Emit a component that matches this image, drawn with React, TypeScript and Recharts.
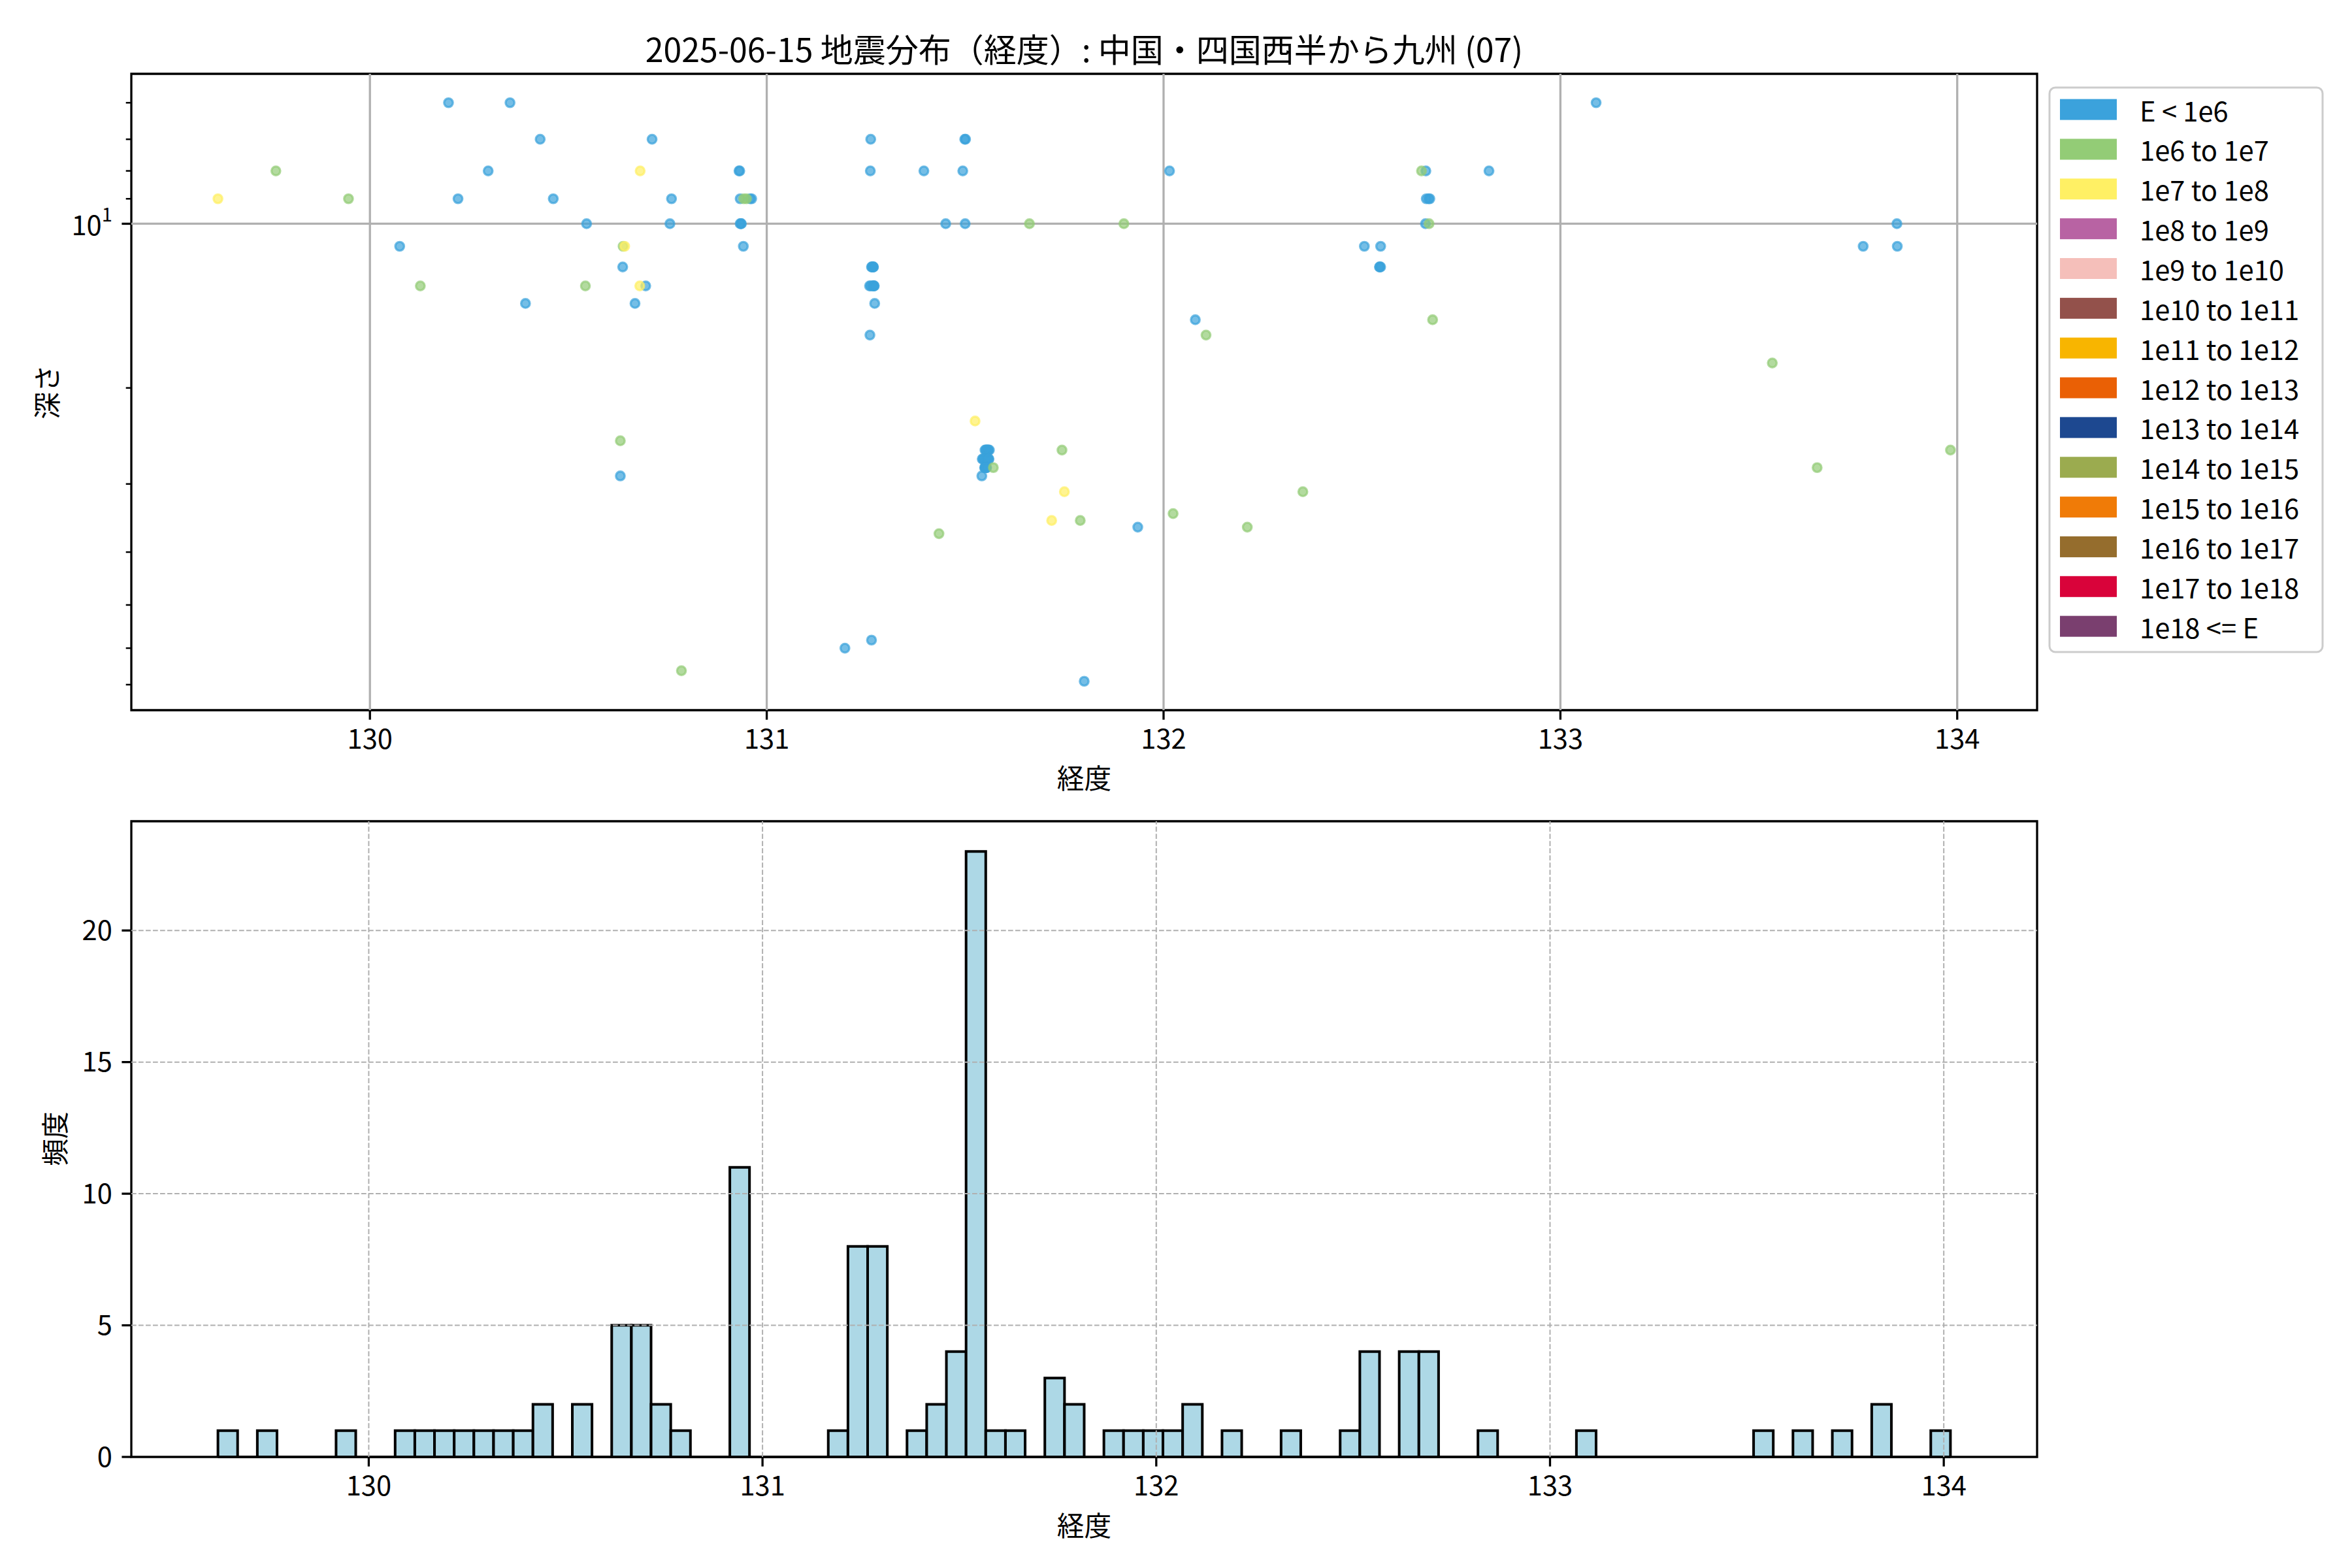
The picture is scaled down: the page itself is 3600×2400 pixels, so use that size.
import {
  Bar,
  ComposedChart,
  ReferenceArea,
  ReferenceLine,
  Scatter,
  ScatterChart,
  XAxis,
  YAxis,
} from "recharts";

const FONT = '"Noto Sans CJK JP", "Noto Sans", sans-serif';

const chartTitle = "2025-06-15 地震分布（経度）: 中国・四国西半から九州 (07)";

const lonTicks = [130, 131, 132, 133, 134];
const depthTicks = [6, 7, 8, 9, 10, 20, 30, 40, 50, 60, 70];
const countTicks = [0, 5, 10, 15, 20];

const energyClasses = [
  { label: "E < 1e6", color: "#3ba2dc" },
  { label: "1e6 to 1e7", color: "#93cc76" },
  { label: "1e7 to 1e8", color: "#fff064" },
  { label: "1e8 to 1e9", color: "#b863a3" },
  { label: "1e9 to 1e10", color: "#f5bfba" },
  { label: "1e10 to 1e11", color: "#93514b" },
  { label: "1e11 to 1e12", color: "#f8b500" },
  { label: "1e12 to 1e13", color: "#ea6005" },
  { label: "1e13 to 1e14", color: "#1d4890" },
  { label: "1e14 to 1e15", color: "#9bab4f" },
  { label: "1e15 to 1e16", color: "#f07b07" },
  { label: "1e16 to 1e17", color: "#956d2d" },
  { label: "1e17 to 1e18", color: "#d9033a" },
  { label: "1e18 <= E", color: "#7a3f6f" },
];

// [longitude, depth km] by energy class
const quakesBelow1e6: [number, number][] = [
  [130.075, 11], [130.198, 6], [130.222, 9], [130.298, 8], [130.353, 6],
  [130.392, 14], [130.429, 7], [130.462, 9], [130.546, 10], [130.631, 29],
  [130.637, 12], [130.668, 14], [130.695, 13], [130.711, 7], [130.756, 10],
  [130.760, 9],
  [130.930, 8], [130.932, 8], [130.933, 9], [130.958, 9], [130.962, 9],
  [130.933, 10], [130.935, 10], [130.936, 10], [130.941, 11],
  [131.197, 60],
  [131.262, 7], [131.261, 8], [131.260, 16], [131.264, 58], [131.264, 12],
  [131.265, 12], [131.259, 13], [131.262, 13],
  [131.272, 14], [131.268, 12], [131.268, 12], [131.269, 12], [131.268, 13],
  [131.269, 13], [131.270, 13], [131.271, 13],
  [131.396, 8], [131.451, 10],
  [131.494, 8], [131.499, 7], [131.501, 7], [131.500, 10],
  [131.550, 26], [131.552, 26], [131.555, 26], [131.557, 26], [131.559, 26],
  [131.561, 26], [131.554, 26],
  [131.543, 27], [131.545, 27], [131.548, 27], [131.551, 27], [131.553, 27],
  [131.556, 27], [131.559, 27], [131.560, 27],
  [131.549, 28], [131.550, 28], [131.551, 28], [131.552, 28], [131.553, 28],
  [131.554, 28], [131.542, 29],
  [131.800, 69], [131.935, 36], [132.015, 8], [132.080, 15],
  [132.506, 11], [132.547, 11], [132.544, 12], [132.545, 12], [132.547, 12],
  [132.661, 8], [132.662, 9], [132.660, 10], [132.668, 9], [132.671, 9],
  [132.820, 8], [133.090, 6], [133.763, 11], [133.848, 10], [133.849, 11],
];

const quakes1e6to1e7: [number, number][] = [
  [129.763, 8], [129.946, 9], [130.127, 13], [130.543, 13], [130.631, 25],
  [130.638, 11], [130.785, 66], [130.942, 9], [130.949, 9], [131.434, 37],
  [131.571, 28], [131.662, 10], [131.744, 26], [131.790, 35], [131.900, 10],
  [132.024, 34], [132.107, 16], [132.211, 36], [132.351, 31], [132.650, 8],
  [132.669, 10], [132.678, 15], [133.534, 18], [133.647, 28], [133.983, 26],
];

const quakes1e7to1e8: [number, number][] = [
  [129.617, 9], [130.642, 11], [130.681, 8], [130.680, 13], [131.525, 23],
  [131.750, 31], [131.718, 35],
];

// histogram: 0.05 degree bins starting at binStart
const binStart = 129.617;
const binWidth = 0.05;
const binCounts = [
  1, 0, 1, 0, 0, 0, 1, 0, 0, 1,
  1, 1, 1, 1, 1, 1, 2, 0, 2, 0,
  5, 5, 2, 1, 0, 0, 11, 0, 0, 0,
  0, 1, 8, 8, 0, 1, 2, 4, 23, 1,
  1, 0, 3, 2, 0, 1, 1, 1, 1, 2,
  0, 1, 0, 0, 1, 0, 0, 1, 4, 0,
  4, 4, 0, 0, 1, 0, 0, 0, 0, 1,
  0, 0, 0, 0, 0, 0, 0, 0, 1, 0,
  1, 0, 1, 0, 2, 0, 0, 1,
];

// layout (px)
const W = 3600;
const PLOT_LEFT = 201;
const PLOT_RIGHT = 3118;
const PLOT_W = PLOT_RIGHT - PLOT_LEFT;
const Y_AXIS_W = 100;
const X_AXIS_H = 80;
const TICK_FONT = 41.7;
const LW = 3.3;

const scatterSeries = [
  { data: quakesBelow1e6, color: energyClasses[0].color },
  { data: quakes1e6to1e7, color: energyClasses[1].color },
  { data: quakes1e7to1e8, color: energyClasses[2].color },
];

const allQuakes = [...quakesBelow1e6, ...quakes1e6to1e7, ...quakes1e7to1e8];
const lons = allQuakes.map((q) => q[0]);
const depths = allQuakes.map((q) => q[1]);
const lonMin = Math.min(...lons);
const lonMax = Math.max(...lons);
const lonPad = (lonMax - lonMin) * 0.05;
const scatterLonDomain = [lonMin - lonPad, lonMax + lonPad];
const logMin = Math.log10(Math.min(...depths));
const logMax = Math.log10(Math.max(...depths));
const logPad = (logMax - logMin) * 0.05;
const depthDomain = [10 ** (logMin - logPad), 10 ** (logMax + logPad)];

const binEnd = binStart + binCounts.length * binWidth;
const histPad = (binEnd - binStart) * 0.05;
const histLonDomain = [binStart - histPad, binEnd + histPad];
const countDomain = [0, Math.max(...binCounts) * 1.05];
const histData = binCounts.map((count, i) => ({
  center: binStart + (i + 0.5) * binWidth,
  count,
}));
// a hair under the bin spacing so recharts keeps bars flush (no 90% shrink)
const barPx = ((PLOT_W * binWidth) / (histLonDomain[1] - histLonDomain[0])) * 0.999;

const tickStyle = { fontSize: TICK_FONT, fill: "#000", fontFamily: FONT };

function DepthTick(props: any) {
  const { y, payload } = props;
  const major = payload.value === 10;
  const len = major ? 14.6 : 8.3;
  return (
    <g>
      <line
        x1={PLOT_LEFT}
        x2={PLOT_LEFT - len}
        y1={y}
        y2={y}
        stroke="#000"
        strokeWidth={major ? LW : 2.5}
      />
      {major && (
        <text
          x={PLOT_LEFT - 29.2}
          y={y}
          textAnchor="end"
          dominantBaseline="central"
          fontFamily={FONT}
          fontSize={TICK_FONT}
          fill="#000"
        >
          10
          <tspan dy={-16} fontSize={29}>
            1
          </tspan>
        </text>
      )}
    </g>
  );
}

function QuakeDot(color: string) {
  return (props: any) => (
    <circle
      cx={props.cx}
      cy={props.cy}
      r={6.7}
      fill={color}
      fillOpacity={0.7}
      stroke={color}
      strokeOpacity={0.7}
      strokeWidth={LW}
    />
  );
}

function DepthScatter() {
  return (
    <ScatterChart
      width={W}
      height={1200}
      margin={{ top: 113, right: W - PLOT_RIGHT, bottom: 1200 - 1087 - X_AXIS_H, left: PLOT_LEFT - Y_AXIS_W }}
    >
      <XAxis
        type="number"
        dataKey="lon"
        domain={scatterLonDomain}
        ticks={lonTicks}
        allowDataOverflow
        height={X_AXIS_H}
        axisLine={false}
        tickSize={14.6}
        tickMargin={14.6}
        tickLine={{ stroke: "#000", strokeWidth: LW }}
        tick={tickStyle}
      />
      <YAxis
        type="number"
        dataKey="depth"
        scale="log"
        domain={depthDomain}
        ticks={depthTicks}
        reversed
        allowDataOverflow
        width={Y_AXIS_W}
        axisLine={false}
        tickLine={false}
        tickSize={0}
        tickMargin={0}
        tick={<DepthTick />}
      />
      {scatterSeries.map((s, i) => (
        <Scatter
          key={i}
          data={s.data.map(([lon, depth]) => ({ lon, depth }))}
          shape={QuakeDot(s.color)}
          isAnimationActive={false}
        />
      ))}
      {lonTicks.map((t) => (
        <ReferenceLine key={t} x={t} stroke="#b0b0b0" strokeWidth={LW} />
      ))}
      <ReferenceLine y={10} stroke="#b0b0b0" strokeWidth={LW} />
      <ReferenceArea
        x1={scatterLonDomain[0]}
        x2={scatterLonDomain[1]}
        y1={depthDomain[0]}
        y2={depthDomain[1]}
        fill="none"
        fillOpacity={0}
        stroke="#000"
        strokeOpacity={1}
        strokeWidth={LW}
      />
    </ScatterChart>
  );
}

function LonHistogram() {
  const grid = { stroke: "#b0b0b0", strokeWidth: 2, strokeDasharray: "7.7 3.3" };
  return (
    <ComposedChart
      width={W}
      height={1200}
      data={histData}
      margin={{ top: 57, right: W - PLOT_RIGHT, bottom: 1200 - 1030 - X_AXIS_H, left: PLOT_LEFT - Y_AXIS_W }}
    >
      <XAxis
        type="number"
        dataKey="center"
        domain={histLonDomain}
        ticks={lonTicks}
        allowDataOverflow
        height={X_AXIS_H}
        axisLine={false}
        tickSize={14.6}
        tickMargin={14.6}
        tickLine={{ stroke: "#000", strokeWidth: LW }}
        tick={tickStyle}
      />
      <YAxis
        type="number"
        domain={countDomain}
        ticks={countTicks}
        allowDataOverflow
        width={Y_AXIS_W}
        axisLine={false}
        tickSize={14.6}
        tickMargin={14.6}
        tickLine={{ stroke: "#000", strokeWidth: LW }}
        tick={tickStyle}
      />
      <Bar
        dataKey="count"
        fill="#add8e6"
        stroke="#000"
        strokeWidth={4}
        barSize={barPx}
        isAnimationActive={false}
      />
      <ReferenceLine
        segment={[
          { x: binStart, y: 0 },
          { x: binEnd, y: 0 },
        ]}
        stroke="#000"
        strokeWidth={4}
      />
      {lonTicks.map((t) => (
        <ReferenceLine key={t} x={t} {...grid} />
      ))}
      {countTicks.slice(1).map((t) => (
        <ReferenceLine key={t} y={t} {...grid} />
      ))}
      <ReferenceArea
        x1={histLonDomain[0]}
        x2={histLonDomain[1]}
        y1={countDomain[0]}
        y2={countDomain[1]}
        fill="none"
        fillOpacity={0}
        stroke="#000"
        strokeOpacity={1}
        strokeWidth={LW}
      />
    </ComposedChart>
  );
}

function Annotations() {
  const midX = (PLOT_LEFT + PLOT_RIGHT) / 2;
  const label = { fontFamily: FONT, fontSize: TICK_FONT, fill: "#000" };
  return (
    <svg
      width={W}
      height={2400}
      style={{ position: "absolute", left: 0, top: 0, pointerEvents: "none" }}
    >
      <text x={midX} y={73} textAnchor="middle" dominantBaseline="central" fontFamily={FONT} fontSize={50} fill="#000">
        {chartTitle}
      </text>
      <text x={midX} y={1189} textAnchor="middle" dominantBaseline="central" {...label}>
        経度
      </text>
      <text x={midX} y={2333} textAnchor="middle" dominantBaseline="central" {...label}>
        経度
      </text>
      <text x={70} y={600} textAnchor="middle" dominantBaseline="central" transform="rotate(-90 70 600)" {...label}>
        深さ
      </text>
      <text x={82} y={1743} textAnchor="middle" dominantBaseline="central" transform="rotate(-90 82 1743)" {...label}>
        頻度
      </text>
      <rect x={3137} y={134} width={418} height={864} rx={9} fill="#fff" fillOpacity={0.8} stroke="#cccccc" strokeWidth={3} />
      {energyClasses.map((c, i) => {
        const cy = 167.6 + 60.85 * i;
        return (
          <g key={c.label}>
            <rect x={3153} y={cy - 16} width={87} height={32} fill={c.color} />
            <text x={3275} y={cy} dominantBaseline="central" {...label}>
              {c.label}
            </text>
          </g>
        );
      })}
    </svg>
  );
}

export default function App() {
  return (
    <div style={{ position: "absolute", left: 0, top: 0, width: W, height: 2400, background: "#fff" }}>
      <div style={{ position: "absolute", left: 0, top: 0 }}>
        <DepthScatter />
      </div>
      <div style={{ position: "absolute", left: 0, top: 1200 }}>
        <LonHistogram />
      </div>
      <Annotations />
    </div>
  );
}
